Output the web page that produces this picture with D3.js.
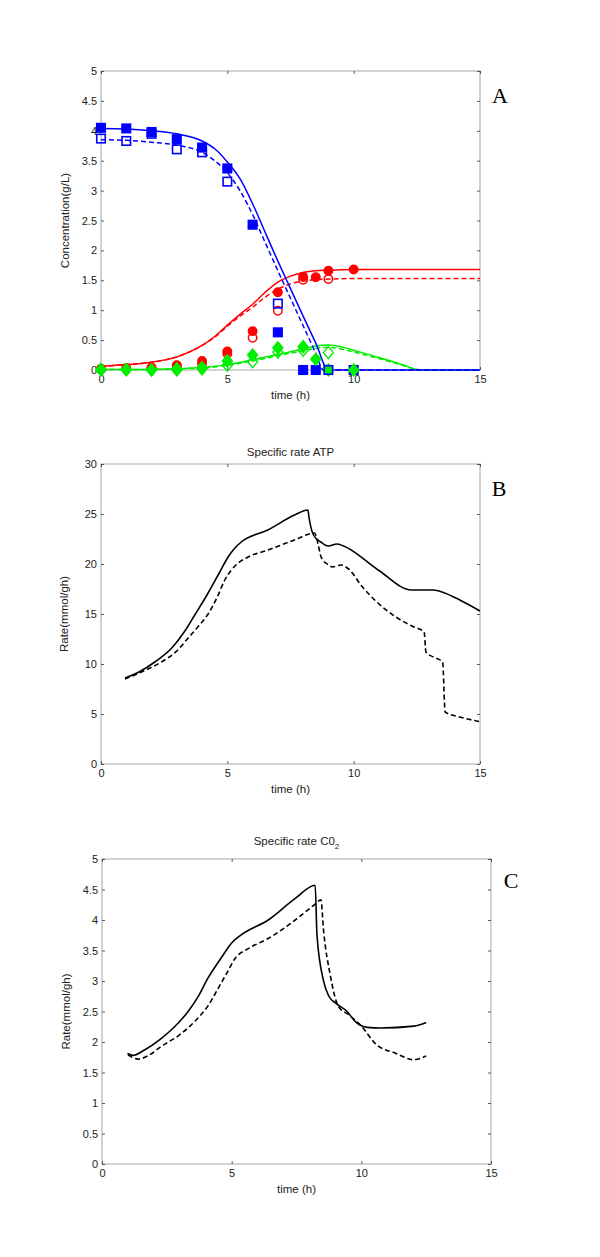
<!DOCTYPE html>
<html><head><meta charset="utf-8">
<script src="https://cdn.jsdelivr.net/npm/d3@7"></script>
<style>body{margin:0;background:#fff}svg{display:block}text{font-family:"Liberation Sans",Arial,sans-serif}</style>
</head><body>
<svg id="c" width="600" height="1257"></svg>
<script>
// ---------- DATA ----------
const xTicks = [0, 5, 10, 15];
const yTicksA = [0, 0.5, 1, 1.5, 2, 2.5, 3, 3.5, 4, 4.5, 5];
const yTicksB = [0, 5, 10, 15, 20, 25, 30];
const yTicksC = [0, 0.5, 1, 1.5, 2, 2.5, 3, 3.5, 4, 4.5, 5];

// Panel A measured points
const glcFilled = [[0,4.05],[1,4.04],[2,3.98],[3,3.86],[4,3.72],[5,3.37],[6,2.43],[7,0.63],[8,0],[8.5,0],[10,0]];
const glcOpen   = [[0,3.87],[1,3.83],[2,3.95],[3,3.69],[4,3.64],[5,3.15],[7,1.11],[9,0]];
const ethFilled = [[0,0.02],[1,0.03],[2,0.04],[3,0.08],[4,0.15],[5,0.31],[6,0.65],[7,1.30],[8,1.56],[8.5,1.55],[9,1.66],[10,1.68]];
const ethOpen   = [[0,0.01],[1,0.02],[2,0.03],[3,0.06],[4,0.11],[5,0.27],[6,0.54],[7,0.99],[8,1.51],[9,1.52]];
const grnFilled = [[0,0.01],[1,0.01],[2,0.0],[3,0.02],[4,0.04],[5,0.15],[6,0.25],[7,0.37],[8,0.39],[8.5,0.18],[9,0],[10,0]];
const grnOpen   = [[0,0.0],[1,0.0],[2,0.0],[3,0.0],[4,0.02],[5,0.08],[6,0.14],[7,0.3],[8,0.33],[9,0.29]];

// Panel A model curves
const glcSolid = [[0,4.04],[1,4.03],[2,4.0],[3,3.95],[4,3.83],[4.5,3.7],[5,3.48],[5.5,3.2],[6,2.78],[6.5,2.3],[7,1.82],[7.5,1.36],[8,0.9],[8.5,0.45],[9,0],[15,0]];
const glcDash  = [[0,3.85],[1,3.84],[2,3.81],[3,3.76],[4,3.64],[4.5,3.5],[5,3.3],[5.5,3.0],[6,2.6],[6.5,2.13],[7,1.66],[7.5,1.2],[8,0.74],[8.5,0.28],[8.8,0],[15,0]];
const ethSolid = [[0,0.06],[1,0.09],[2,0.13],[3,0.22],[4,0.41],[4.5,0.56],[5,0.75],[5.5,0.93],[6,1.1],[6.5,1.3],[7,1.47],[7.5,1.57],[8,1.63],[8.5,1.66],[9,1.67],[10,1.68],[15,1.68]];
const ethDash  = [[0,0.06],[1,0.09],[2,0.13],[3,0.22],[4,0.41],[4.5,0.55],[5,0.73],[5.5,0.9],[6,1.05],[6.5,1.22],[7,1.35],[7.5,1.44],[8,1.49],[8.5,1.51],[9,1.52],[10,1.53],[15,1.53]];
const grnSolid = [[0,0.01],[1,0.01],[2,0.01],[3,0.02],[4,0.04],[5,0.09],[6,0.17],[7,0.26],[8,0.35],[8.5,0.4],[9,0.42],[9.5,0.39],[10,0.33],[11,0.21],[12,0.08],[12.5,0.01],[13,0],[15,0]];
const grnDash  = [[0,0.01],[1,0.01],[2,0.01],[3,0.02],[4,0.03],[5,0.08],[6,0.15],[7,0.24],[8,0.32],[8.5,0.36],[9,0.38],[9.5,0.35],[10,0.3],[11,0.19],[12,0.07],[12.5,0.01],[13,0],[15,0]];

// Panel B
const atpSolid = [[0.95,8.6],[1.5,9.2],[2.13,10.2],[2.8,11.6],[3.32,13.3],[3.71,14.9],[4.24,17.1],[4.7,19.2],[5.03,20.7],[5.3,21.6],[5.55,22.2],[6.6,23.4],[7.66,24.9],[8.19,25.4],[8.23,24.7],[8.41,22.9],[8.7,22.2],[9.0,21.8],[9.33,22.0],[9.6,21.8],[10.97,19.4],[12.29,17.4],[13.14,17.4],[13.6,17.1],[14.2,16.4],[15,15.3]];
const atpDash  = [[0.95,8.5],[1.6,9.2],[2.39,10.2],[3.0,11.3],[3.45,12.6],[3.9,13.9],[4.24,15.0],[4.6,16.7],[4.9,18.4],[5.43,20.1],[5.82,20.7],[6.61,21.4],[7.66,22.4],[8.45,23.1],[8.6,21.9],[8.71,20.7],[8.95,20.0],[9.17,19.7],[9.5,19.9],[9.8,19.5],[10.35,17.7],[11.67,14.7],[12.3,13.8],[12.79,13.2],[12.86,11.2],[13.15,10.7],[13.52,10.2],[13.62,5.2],[14.2,4.7],[14.96,4.25]];

// Panel C
const co2Solid = [[0.98,1.81],[1.2,1.78],[1.6,1.86],[2.29,2.06],[2.8,2.25],[3.32,2.5],[3.7,2.74],[4.09,3.05],[4.6,3.38],[4.99,3.62],[5.38,3.76],[6.41,4.0],[7.44,4.35],[8.22,4.57],[8.29,3.75],[8.55,2.99],[8.75,2.75],[9.0,2.64],[9.45,2.5],[9.8,2.32],[10.22,2.24],[10.74,2.23],[12.03,2.26],[12.5,2.32]];
const co2Dash  = [[1.0,1.79],[1.39,1.72],[1.8,1.78],[2.29,1.93],[3.0,2.12],[3.58,2.34],[4.1,2.6],[4.48,2.88],[4.8,3.12],[5.13,3.37],[5.64,3.53],[6.42,3.7],[7.45,4.0],[8.22,4.26],[8.44,4.33],[8.55,3.8],[8.8,3.1],[9.12,2.58],[9.5,2.45],[9.96,2.28],[10.6,1.95],[11.3,1.82],[12.03,1.71],[12.5,1.77]];

// ---------- DRAW ----------
const svg = d3.select("#c");
const AX = "#a6a6a6";

function panel(o) {
  const x = d3.scaleLinear().domain([0, 15]).range([o.l, o.r]);
  const y = d3.scaleLinear().domain(o.yd).range([o.b, o.t]);
  const g = svg.append("g");
  g.append("rect").attr("x", o.l).attr("y", o.t).attr("width", o.r - o.l).attr("height", o.b - o.t)
    .attr("fill", "none").attr("stroke", AX).attr("stroke-width", 1);
  const ax = (gen, tr) => {
    const a = g.append("g").attr("transform", tr).call(gen);
    a.select(".domain").remove();
    a.selectAll(".tick line").attr("stroke", "#333").attr("stroke-width", 0.8);
    a.selectAll("text").attr("fill", "#222").style("font-size", "11px");
    return a;
  };
  ax(d3.axisBottom(x).tickValues(xTicks).tickSize(-3).tickPadding(5).tickFormat(d3.format("d")), `translate(0,${o.b})`);
  ax(d3.axisTop(x).tickValues(xTicks).tickSize(-3).tickFormat(""), `translate(0,${o.t})`);
  ax(d3.axisLeft(y).tickValues(o.yt).tickSize(-3).tickPadding(4).tickFormat(d => d3.format("~g")(d)), `translate(${o.l},0)`);
  ax(d3.axisRight(y).tickValues(o.yt).tickSize(-3).tickFormat(""), `translate(${o.r},0)`);
  g.append("text").attr("x", (o.l + o.r) / 2).attr("y", o.b + 29).attr("text-anchor", "middle")
    .style("font-size", "11.5px").attr("fill", "#222").text("time (h)");
  g.append("text").attr("transform", `translate(${o.yl},${(o.t + o.b) / 2}) rotate(-90)`).attr("text-anchor", "middle")
    .style("font-size", "11.5px").attr("fill", "#222").text(o.ylab);
  g.append("text").attr("x", o.lx).attr("y", o.ly).attr("text-anchor", "middle")
    .style("font-family", "'Liberation Serif','Times New Roman',serif").style("font-size", "22px").attr("fill", "#000").text(o.letter);
  return {x, y, g};
}

function curve(p, data, color, dash, w) {
  const line = d3.line().x(d => p.x(d[0])).y(d => p.y(d[1])).curve(d3.curveMonotoneX);
  p.g.append("path").datum(data).attr("d", line).attr("fill", "none").attr("stroke", color)
    .attr("stroke-width", w || 1.5).attr("stroke-dasharray", dash ? "5,3" : null).attr("stroke-linejoin", "round");
}

// Panel A
const A = panel({l: 101, r: 480, t: 71, b: 370, yd: [0, 5], yt: yTicksA, yl: 69, ylab: "Concentration(g/L)", letter: "A", lx: 500, ly: 103});
const BLUE = "#0000ff", RED = "#ff0000", GRN = "#00ee00";
curve(A, grnSolid, GRN, false); curve(A, grnDash, GRN, true);
curve(A, ethSolid, RED, false); curve(A, ethDash, RED, true);
curve(A, glcSolid, BLUE, false); curve(A, glcDash, BLUE, true);

const sq = 8.5;
function squares(data, color, filled) {
  A.g.selectAll(null).data(data).enter().append("rect")
    .attr("x", d => A.x(d[0]) - sq / 2).attr("y", d => A.y(d[1]) - sq / 2).attr("width", sq).attr("height", sq)
    .attr("fill", filled ? color : "none").attr("stroke", color).attr("stroke-width", 1.6);
}
function circles(data, color, filled) {
  A.g.selectAll(null).data(data).enter().append("circle")
    .attr("cx", d => A.x(d[0])).attr("cy", d => A.y(d[1])).attr("r", 4.2)
    .attr("fill", filled ? color : "#fff").attr("fill-opacity", filled ? 1 : 0).attr("stroke", color).attr("stroke-width", 1.5);
}
function diamonds(data, color, filled) {
  A.g.selectAll(null).data(data).enter().append("path")
    .attr("d", d => { const cx = A.x(d[0]), cy = A.y(d[1]); return `M${cx},${cy - 6}L${cx + 5},${cy}L${cx},${cy + 6}L${cx - 5},${cy}Z`; })
    .attr("fill", filled ? color : "none").attr("stroke", color).attr("stroke-width", 1.4);
}
circles(ethOpen, RED, false);
circles(ethFilled, RED, true);
diamonds(grnOpen, GRN, false);
squares(glcFilled, BLUE, true);
diamonds(grnFilled, GRN, true);
squares(glcOpen, BLUE, false);

// Panel B
const B = panel({l: 101, r: 480, t: 464, b: 764, yd: [0, 30], yt: yTicksB, yl: 68, ylab: "Rate(mmol/gh)", letter: "B", lx: 499, ly: 496});
B.g.append("text").attr("x", (101 + 480) / 2).attr("y", 456).attr("text-anchor", "middle").style("font-size", "11.5px").attr("fill", "#222").text("Specific rate ATP");
curve(B, atpSolid, "#000", false, 1.6);
curve(B, atpDash, "#000", true, 1.6);

// Panel C
const C = panel({l: 102, r: 491, t: 859, b: 1164, yd: [0, 5], yt: yTicksC, yl: 70, ylab: "Rate(mmol/gh)", letter: "C", lx: 511, ly: 888});
const tC = C.g.append("text").attr("x", (102 + 491) / 2).attr("y", 845).attr("text-anchor", "middle").style("font-size", "11.5px").attr("fill", "#222");
tC.append("tspan").text("Specific rate C0");
tC.append("tspan").attr("dy", 4).style("font-size", "8px").text("2");
curve(C, co2Solid, "#000", false, 1.6);
curve(C, co2Dash, "#000", true, 1.6);
</script>
</body></html>
